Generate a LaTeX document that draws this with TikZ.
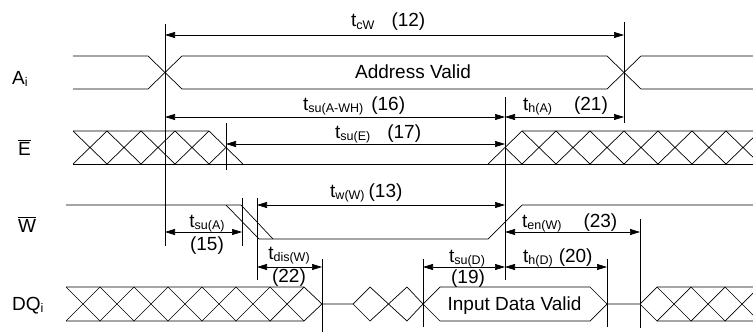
\documentclass[tikz,border=0pt]{standalone}
\usepackage{fontspec}
\setmainfont{Liberation Sans}
\usetikzlibrary{arrows.meta}

\newcommand{\sub}[1]{\raisebox{-2.5pt}{\fontsize{12.5}{13}\selectfont #1}}
\newcommand{\ovl}[1]{$\overline{\mbox{#1}}$}

\begin{document}
\begin{tikzpicture}
	[x=1pt,y=-1pt,every node/.style={inner sep=0pt,font=\fontsize{19}{22}\selectfont}]
	\tikzstyle{wave} = [line width=0.7pt];
	\tikzstyle{tick} = [line width=0.7pt];
	\tikzstyle{dim} = [line width=0.7pt,{Triangle[length=10pt,width=6pt]}-{Triangle[length=10pt,width=6pt]}];
	\tikzstyle{lbl} = [anchor=base west];
	\useasboundingbox (0,0) rectangle (753,332);

	% signal names
	\node[lbl] (nA) at (12,84) {A\sub{i}};
	\node[lbl] (nE) at (18,155) {\ovl{E}};
	\node[lbl] (nW) at (18,232) {\ovl{W}};
	\node[lbl] (nD) at (12,310) {DQ\sub{i}};

	\begin{scope}
	\clip (0,0) rectangle (753,332);
	% A_i
	\draw[wave] (73,56) -- (148,56) -- (182,89) -- (607,89) -- (641,56) -- (753,56);
	\draw[wave] (73,89) -- (148,89) -- (182,56) -- (607,56) -- (641,89) -- (753,89);
	% E
	\draw[wave] (73,131) -- (209,131) -- (243,164);
	\draw[wave] (73,164) -- (753,164);
	\draw[wave] (209,164) -- (226,147.5);
	\foreach \x in {73,107,141,175}
		\draw[wave] (\x,131) -- ++(34,33) (\x,164) -- ++(34,-33);
	\draw[wave] (488,164) -- (522,131) -- (753,131);
	\draw[wave] (505,147.5) -- (522,164);
	\foreach \x in {522,556,590,624,658,692,726}
		\draw[wave] (\x,131) -- ++(34,33) (\x,164) -- ++(34,-33);
	% W
	\draw[wave] (66,205) -- (241,205) -- (273,239);
	\draw[wave] (226,205) -- (259,239) -- (488,239) -- (522,205) -- (753,205);
	% DQ_i
	\draw[wave] (66,287) -- (304,287) -- (322,304) -- (353,304);
	\draw[wave] (66,321) -- (304,321) -- (322,304);
	\foreach \x in {66,100,134,168,202,236,270}
		\draw[wave] (\x,287) -- ++(34,34) (\x,321) -- ++(34,-34);
	\draw[wave] (353,304) -- (370,287) -- (407,321) -- (423,304);
	\draw[wave] (353,304) -- (370,321) -- (407,287) -- (423,304);
	\draw[wave] (423,304) -- (440,287) -- (590,287) -- (607,304) -- (590,321) -- (440,321) -- cycle;
	\draw[wave] (607,304) -- (640,304) -- (657,287) -- (753,287);
	\draw[wave] (640,304) -- (657,321) -- (753,321);
	\foreach \x in {657,691,725}
		\draw[wave] (\x,287) -- ++(34,34) (\x,321) -- ++(34,-34);
	\end{scope}

	\node[anchor=base] (tA) at (413,78) {Address Valid};
	\node[anchor=base] (tD) at (514.5,310) {Input Data Valid};

	% timing edges
	\coordinate (a1) at (165,24);  \coordinate (a1e) at (165,246);
	\coordinate (a2) at (624,22);  \coordinate (a2e) at (624,123);
	\coordinate (e1) at (226,123); \coordinate (e1e) at (226,170);
	\coordinate (w1) at (242,198); \coordinate (w1e) at (242,246);
	\coordinate (w2) at (257,198); \coordinate (w2e) at (257,280);
	\coordinate (w3) at (505,97);  \coordinate (w3e) at (505,280);
	\coordinate (d1) at (322,259); \coordinate (d1e) at (322,332);
	\coordinate (d2) at (423,259); \coordinate (d2e) at (423,327);
	\coordinate (d3) at (607,259); \coordinate (d3e) at (607,327);
	\coordinate (d4) at (640,219); \coordinate (d4e) at (640,328);
	\foreach \c in {a1,a2,e1,w1,w2,w3,d1,d2,d3,d4}
		\draw[tick] (\c) -- (\c e);

	% timing arrows
	\draw[dim] (a1 |- 0,35) -- (a2 |- 0,35);
	\draw[dim] (a1 |- 0,117) -- (w3 |- 0,117);
	\draw[dim] (w3 |- 0,117) -- (a2 |- 0,117);
	\draw[dim] (e1 |- 0,144) -- (w3 |- 0,144);
	\draw[dim] (w2 |- 0,205) -- (w3 |- 0,205);
	\draw[dim] (a1 |- 0,232) -- (w1 |- 0,232);
	\draw[dim] (w2 |- 0,267) -- (d1 |- 0,267);
	\draw[dim] (w3 |- 0,232) -- (d4 |- 0,232);
	\draw[dim] (d2 |- 0,267) -- (w3 |- 0,267);
	\draw[dim] (w3 |- 0,267) -- (d3 |- 0,267);

	% timing labels
	\node[lbl] (l12) at (351,27) {t\sub{cW}\hspace{17pt}(12)};
	\node[lbl] (l16) at (303,110) {t\sub{su(A-WH)}\hspace{8pt}(16)};
	\node[lbl] (l21) at (523,110) {t\sub{h(A)}\hspace{22pt}(21)};
	\node[lbl] (l17) at (335,138) {t\sub{su(E)}\hspace{17pt}(17)};
	\node[lbl] (l13) at (330,197) {t\sub{w(W)}\hspace{4pt}(13)};
	\node[anchor=base] (l15a) at (207,227) {t\sub{su(A)}};
	\node[anchor=base] (l15b) at (207,250) {(15)};
	\node[anchor=base] (l22a) at (289,259) {t\sub{dis(W)}};
	\node[anchor=base] (l22b) at (289,282) {(22)};
	\node[lbl] (l23) at (522,227) {t\sub{en(W)}\hspace{22pt}(23)};
	\node[anchor=base] (l19a) at (467,262) {t\sub{su(D)}};
	\node[anchor=base] (l19b) at (468,283) {(19)};
	\node[lbl] (l20) at (523,262) {t\sub{h(D)}\hspace{6pt}(20)};
\end{tikzpicture}
\end{document}
